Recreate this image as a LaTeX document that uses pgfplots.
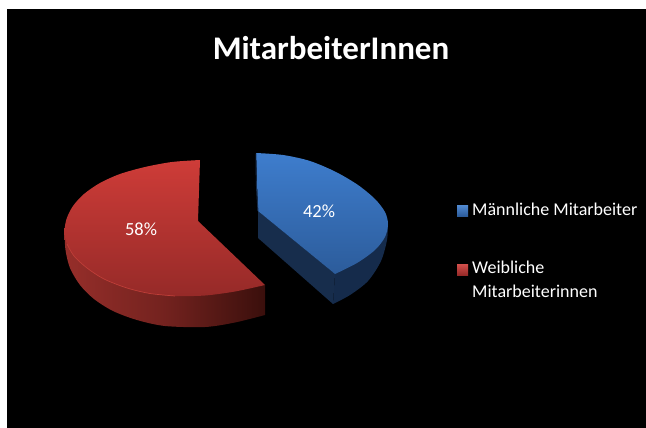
\documentclass[border=0pt]{standalone}
\usepackage{fontspec}
\setmainfont{Carlito}
\usepackage{pgfplots}
\pgfplotsset{compat=1.18}
\definecolor{bluetop}{RGB}{62,125,205}
\definecolor{bluebot}{RGB}{44,92,155}
\definecolor{bluewall}{RGB}{21,43,75}
\definecolor{bluecut}{RGB}{23,45,76}
\definecolor{redtop}{RGB}{206,60,56}
\definecolor{redbot}{RGB}{150,42,40}
\definecolor{redwallL}{RGB}{150,46,42}
\definecolor{redwallR}{RGB}{58,15,12}
\begin{document}
\begin{tikzpicture}
\begin{axis}[
  hide axis, scale only axis, width=646pt, height=428pt,
  xmin=0, xmax=646, ymin=0, ymax=428, y dir=reverse,
  clip=true
]
% page and panel
\addplot[fill=white, draw=none, forget plot] coordinates {(0,0)(646,0)(646,428)(0,428)} -- cycle;
\addplot[fill=black, draw=none, forget plot] coordinates {(7,9)(646,9)(646,428)(7,428)} -- cycle;
% red wall (bottom arc, closed under the top face)
\addplot[smooth, draw=none, left color=redwallL, right color=redwallR, middle color=redwallL!62!redwallR, forget plot] coordinates {
 (64.5,232)(65.5,250)(70,268)(80,285)(94,299)(113,311)(137,320)(165,326)(205,327)(235,322.5)(265,315)} -- (axis cs:265,285) -- (axis cs:200,240) -- cycle;
% red top
\addplot[smooth, draw=none, top color=redtop, bottom color=redbot, forget plot] coordinates {
 (200,160)(172,162)(145,167)(120,174)(100,183)(84,194)(73,206)(66.5,219)(64.5,232)(67,244)(74,256)(87,268)(104,279)(127,288)(150,293.5)(175,296)(205,295.5)(235,291.5)(265,285)} -- (axis cs:198,221) -- cycle;
% red rim highlight
\addplot[smooth, draw={rgb,255:red,190;green,62;blue,56}, line width=0.7pt, forget plot] coordinates {
 (67,244)(74,256)(87,268)(104,279)(127,288)(150,293.5)(175,296)};
% blue wall (bottom arc, closed under the top face)
\addplot[smooth, draw=none, fill=bluewall, forget plot] coordinates {
 (388,224)(387,240)(381,261)(368,281)(350,295)(333,304)} -- (axis cs:335,274) -- (axis cs:300,230) -- cycle;
% blue cut face
\addplot[fill=bluecut, draw=none, forget plot] coordinates {(258,211)(335,274)(333,304)(258,238)} -- cycle;
% blue top
\addplot[smooth, draw=none, top color=bluetop, bottom color=bluebot, forget plot] coordinates {
 (256,153)(283,155)(310,161)(336,172)(358,185)(375,199)(385,212)(388,224)(385,237)(375,250)(357,263)(335,274)} -- (axis cs:258,211) -- cycle;
% blue left edge
\addplot[smooth, draw=bluecut, line width=0.9pt, forget plot] coordinates {(256,153.5)(256.4,185)(258,211)};
% legend swatches
\addplot[draw=none, top color=bluetop!90!white, bottom color=bluebot, forget plot] coordinates {(457,205)(468,205)(468,216)(457,216)} -- cycle;
\addplot[draw=none, top color=redtop!90!white, bottom color=redbot, forget plot] coordinates {(457,264)(468,264)(468,275)(457,275)} -- cycle;
% texts
\node[text=white, font=\fontsize{33}{36}\selectfont\bfseries, anchor=center] at (axis cs:331,48) {MitarbeiterInnen};
\node[text=white, font=\fontsize{18.5}{20}\selectfont, anchor=center] at (axis cs:319,211) {42\%};
\node[text=white, font=\fontsize{18.5}{20}\selectfont, anchor=center] at (axis cs:141,229) {58\%};
\node[text=white, font=\fontsize{18}{20}\selectfont, anchor=base west, inner sep=0pt] at (axis cs:472,215) {Männliche Mitarbeiter};
\node[text=white, font=\fontsize{18}{20}\selectfont, anchor=base west, inner sep=0pt] at (axis cs:472,273.5) {Weibliche};
\node[text=white, font=\fontsize{18}{20}\selectfont, anchor=base west, inner sep=0pt] at (axis cs:472,297) {Mitarbeiterinnen};
\end{axis}
\end{tikzpicture}
\end{document}
